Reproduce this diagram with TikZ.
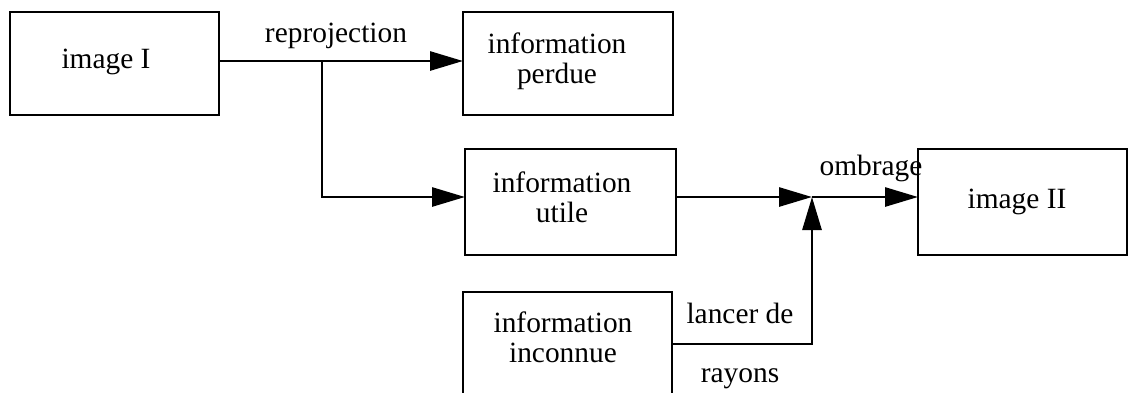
\documentclass[tikz,border=0pt]{standalone}
\usepackage{fontspec}
\setmainfont{Liberation Serif}
\usetikzlibrary{arrows.meta}
\begin{document}
\begin{tikzpicture}[x=1pt,y=-1pt,line width=2.8pt,
  box/.style={draw,line width=2.8pt,inner sep=0pt,outer sep=0pt},
  lbl/.style={inner sep=0pt,outer sep=0pt,align=center,anchor=base,font=\fontsize{29.4}{29.5}\selectfont},
  arr/.style={-{Triangle[length=33pt,width=19pt]}}]
\clip (0,0) rectangle (1128,392);
\node[box,minimum width=209pt,minimum height=103pt] (img1) at (114.5,63.5) {};
\node[box,minimum width=210pt,minimum height=103pt] (perdue) at (568,63.5) {};
\node[box,minimum width=211pt,minimum height=106pt] (utile) at (570.5,202) {};
\node[box,minimum width=209pt,minimum height=106pt] (img2) at (1022.5,202) {};
\node[box,minimum width=209pt,minimum height=106pt] (inconnue) at (567.5,345) {};
\node[lbl] (t1) at (106,68) {image I};
\node[lbl] (t2) at (557,83) {information\\perdue};
\node[lbl] (t3) at (562,222) {information\\utile};
\node[lbl] (t4) at (1017,208) {image II};
\node[lbl] (t5) at (563,362) {information\\inconnue};
\node[lbl] (reproj) at (336,42) {reprojection};
\node[lbl] (ombr) at (871,175) {ombrage};
\node[lbl] (lancer) at (740,323) {lancer de};
\node[lbl] (rayons) at (740,382) {rayons};
\coordinate (j1) at (322,61);
\coordinate (j2) at (322,197);
\coordinate (j3) at (812,197);
\coordinate (j4) at (812,344);
\draw (img1.east |- j1) -- (j1);
\draw[arr] (j1) -- (perdue.west |- j1);
\draw[arr] (j1) -- (j2) -- (utile.west |- j2);
\draw[arr] (utile.east |- j3) -- (j3);
\draw[arr] (j3) -- (img2.west |- j3);
\draw[arr] (inconnue.east |- j4) -- (j4) -- (j3);
\end{tikzpicture}
\end{document}
